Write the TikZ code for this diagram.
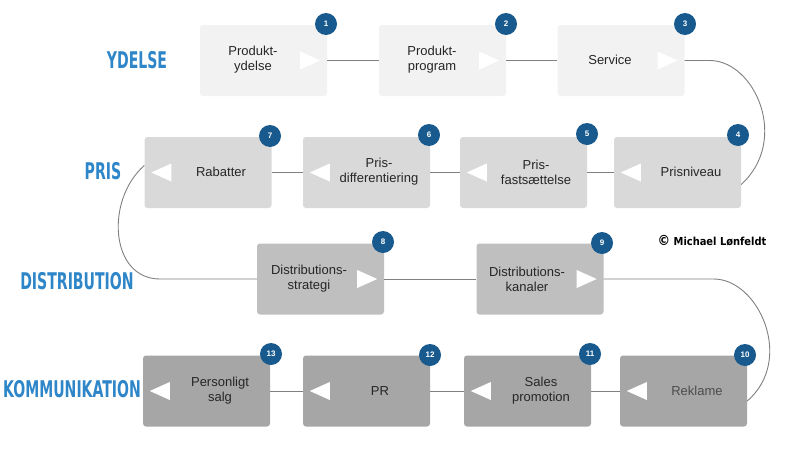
\documentclass[tikz,border=0pt]{standalone}
\usepackage{fontspec}
\setmainfont{Liberation Sans}
\newfontfamily\headf{DejaVu Sans Condensed}
\begin{document}
\begin{tikzpicture}[x=1pt,y=-1pt,
 box/.style={rectangle,rounded corners=3pt,minimum width=127pt,minimum height=71pt,inner sep=0pt},
 r1/.style={box,fill=c1}, r2/.style={box,fill=c2}, r3/.style={box,fill=c3}, r4/.style={box,fill=c4},
 txt/.style={align=center,font=\fontsize{13}{15}\selectfont,text=black!85},
 badge/.style={circle,fill=badgec,minimum size=22pt,inner sep=0pt,text=white,font=\bfseries\fontsize{8}{9}\selectfont},
 head/.style={text=headc,xscale=0.68,font=\headf\bfseries\fontsize{23}{25}\selectfont},
 conn/.style={draw=gray,line width=0.9pt},
 tri/.style={fill=white}]
\definecolor{c1}{HTML}{F2F2F2}\definecolor{c2}{HTML}{D9D9D9}\definecolor{c3}{HTML}{BFBFBF}\definecolor{c4}{HTML}{A6A6A6}
\definecolor{badgec}{HTML}{185A8E}\definecolor{headc}{HTML}{2E86C8}
\useasboundingbox (0,0) rectangle (800,450);
% headings
\node[head] (h1) at (137,60) {YDELSE};
\node[head] (h2) at (103,171) {PRIS};
\node[head] (h3) at (77,281) {DISTRIBUTION};
\node[head] (h4) at (72,389) {KOMMUNIKATION};
% boxes
\node[r1] (b1) at (263.5,60.5) {};
\node[r1] (b2) at (442.5,60.5) {};
\node[r1] (b3) at (621,60.5) {};
\node[r2] (b7) at (208,172.5) {};
\node[r2] (b6) at (366.5,172.5) {};
\node[r2] (b5) at (523.5,172.5) {};
\node[r2] (b4) at (677.5,172.5) {};
\node[r3] (b8) at (320.5,279) {};
\node[r3] (b9) at (540,279) {};
\node[r4] (b13) at (206.5,391) {};
\node[r4] (b12) at (366.5,391) {};
\node[r4] (b11) at (527.5,391) {};
\node[r4] (b10) at (683.5,391) {};
% triangles
\foreach \n in {b1,b2,b3,b8,b9}{
 \fill[tri] ([xshift=-27pt,yshift=-9pt]\n.east) -- ([xshift=-7pt]\n.east) -- ([xshift=-27pt,yshift=9pt]\n.east) -- cycle;}
\foreach \n in {b7,b6,b5,b4,b13,b12,b11,b10}{
 \fill[tri] ([xshift=27pt,yshift=-9pt]\n.west) -- ([xshift=7pt]\n.west) -- ([xshift=27pt,yshift=9pt]\n.west) -- cycle;}
% texts
\node[txt] (t1) at (253,60) {Produkt-\\ydelse};
\node[txt] (t2) at (432,60) {Produkt-\\program};
\node[txt] (t3) at (610,60) {Service};
\node[txt] (t7) at (221,172) {Rabatter};
\node[txt] (t6) at (379,172) {Pris-\\differentiering};
\node[txt] (t5) at (536,172) {Pris-\\fastsættelse};
\node[txt] (t4) at (691,172) {Prisniveau};
\node[txt] (t8) at (309,279) {Distributions-\\strategi};
\node[txt] (t9) at (527,279) {Distributions-\\kanaler};
\node[txt] (t13) at (220,391) {Personligt\\salg};
\node[txt] (t12) at (380,391) {PR};
\node[txt] (t11) at (541,391) {Sales\\promotion};
\node[txt,text=black!70] (t10) at (697,391) {Reklame};
% connectors
\draw[conn] (b1.east) -- (b2.west);
\draw[conn] (b2.east) -- (b3.west);
\draw[conn] (b4.west) -- (b5.east);
\draw[conn] (b5.west) -- (b6.east);
\draw[conn] (b6.west) -- (b7.east);
\draw[conn] (b8.east) -- (b9.west);
\draw[conn] (b10.west) -- (b11.east);
\draw[conn] (b11.west) -- (b12.east);
\draw[conn] (b12.west) -- (b13.east);
\coordinate (e4) at ([yshift=-12pt]b4.east);
\coordinate (w7) at ([yshift=7pt]b7.west);
\coordinate (e10) at ([yshift=-10pt]b10.east);
\draw[conn] (b3.east) -- ++(25,0) .. controls +(45,0) and (790,140) .. (e4);
\draw[conn] (w7) .. controls (105,200) and (110,279) .. (160,279) -- (b8.west);
\draw[conn] (b9.east) -- ++(110,0) .. controls +(45,0) and (795,360) .. (e10);
% badges
\node[badge] (n1) at (326,24) {1};
\node[badge] (n2) at (506,24) {2};
\node[badge] (n3) at (685,24) {3};
\node[badge] (n7) at (270,136) {7};
\node[badge] (n6) at (429,135) {6};
\node[badge] (n5) at (587,134) {5};
\node[badge] (n4) at (738,135) {4};
\node[badge] (n8) at (383,242) {8};
\node[badge] (n9) at (602,243) {9};
\node[badge] (n13) at (271,354) {13};
\node[badge] (n12) at (430,355) {12};
\node[badge] (n11) at (590,354) {11};
\node[badge] (n10) at (745,355) {10};
\node[font=\headf\bfseries\fontsize{11}{13}\selectfont] (cp) at (712,241) {{\fontsize{14}{14}\selectfont\textcopyright}\ Michael Lønfeldt};
\end{tikzpicture}
\end{document}
